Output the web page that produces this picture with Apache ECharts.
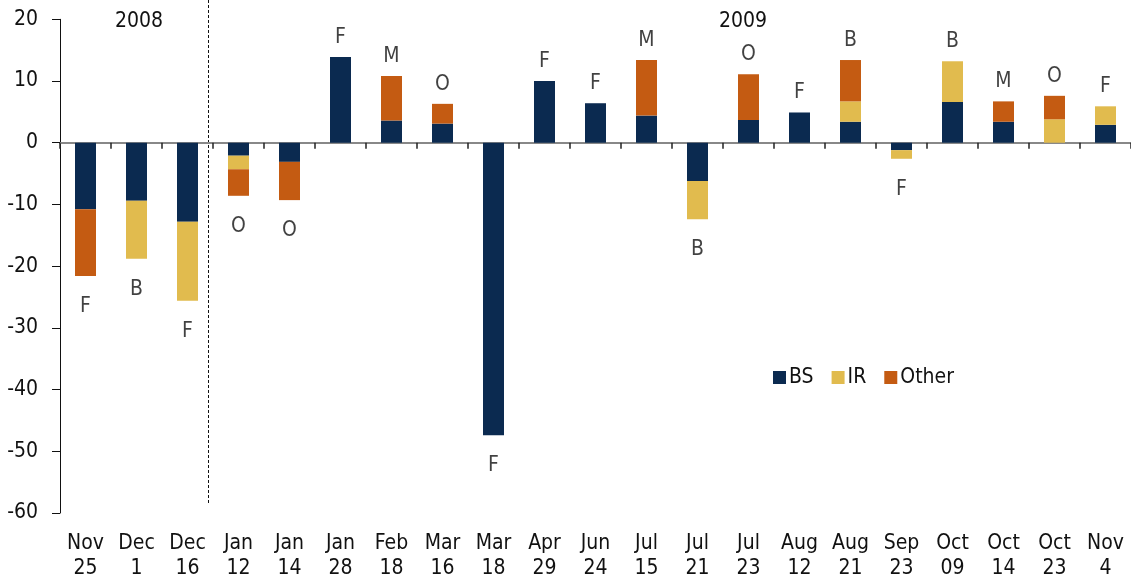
<!DOCTYPE html>
<html>
<head>
<meta charset="utf-8">
<script src="https://cdn.jsdelivr.net/npm/echarts@6/dist/echarts.min.js"></script>
<style>
  html, body { margin: 0; padding: 0; background: #fff; }
  #main { width: 1131px; height: 584px; }
</style>
</head>
<body>
<div id="main"></div>
<script>
// meeting dates (2008-2009)
const categories = ['Nov\n25', 'Dec\n1', 'Dec\n16', 'Jan\n12', 'Jan\n14', 'Jan\n28', 'Feb\n18', 'Mar\n16', 'Mar\n18', 'Apr\n29', 'Jun\n24',
  'Jul\n15', 'Jul\n21', 'Jul\n23', 'Aug\n12', 'Aug\n21', 'Sep\n23', 'Oct\n09', 'Oct\n14', 'Oct\n23', 'Nov\n4'];
const bs    = [-10.8, -9.4, -12.8, -2.1, -3.1, 13.9, 3.6, 3.1, -47.4, 10.0, 6.4, 4.4, -6.2, 3.7, 4.9, 3.4, -1.2, 6.6, 3.4, 0, 2.9];
const ir    = [0, -9.4, -12.8, -2.2, 0, 0, 0, 0, 0, 0, 0, 0, -6.2, 0, 0, 3.3, -1.4, 6.6, 0, 3.8, 3.0];
const other = [-10.8, 0, 0, -4.3, -6.2, 0, 7.2, 3.2, 0, 0, 0, 9.0, 0, 7.4, 0, 6.7, 0, 0, 3.3, 3.8, 0];
const tags  = ['F', 'B', 'F', 'O', 'O', 'F', 'M', 'O', 'F', 'F', 'F', 'M', 'B', 'O', 'F', 'B', 'F', 'B', 'M', 'O', 'F'];
const yTicks = [-60, 20, 10];

const FONT = '"DejaVu Sans Condensed", "Liberation Sans Narrow", "Liberation Sans", Arial, sans-serif';
const colors = { BS: '#0b2a50', IR: '#e1bb4e', Other: '#c45b12' };

const totals = bs.map((v, i) => +(v + ir[i] + other[i]).toFixed(2));

const chart = echarts.init(document.getElementById('main'));

function barSeries(name, data) {
  return {
    name: name,
    type: 'bar',
    stack: 'total',
    data: data,
    barWidth: 21,
    itemStyle: { color: colors[name] },
    animation: false
  };
}

const option = {
  animation: false,
  grid: { left: 60, right: 0, top: 19.3, bottom: 71 },
  legend: {
    data: ['BS', 'IR', 'Other'],
    left: 768, top: 362,
    itemWidth: 13, itemHeight: 13, itemGap: 18,
    icon: 'rect',
    textStyle: { fontFamily: FONT, fontSize: 21, color: '#111', padding: [0, 0, 0, -2] }
  },
  xAxis: [
    {
      type: 'category',
      data: categories,
      axisLine: { onZero: true, lineStyle: { color: '#888', width: 2 } },
      axisTick: { show: true, length: 6, lineStyle: { color: '#222', width: 1.5 } },
      axisLabel: { show: false }
    },
    {
      type: 'category',
      data: categories,
      position: 'bottom',
      axisLine: { show: false, onZero: false },
      axisTick: { show: false },
      axisLabel: {
        fontFamily: FONT, fontSize: 21, color: '#111',
        lineHeight: 25, margin: 18, interval: 0
      }
    }
  ],
  yAxis: {
    type: 'value',
    min: yTicks[0], max: yTicks[1], interval: yTicks[2],
    splitLine: { show: false },
    axisLine: { show: true, lineStyle: { color: '#111', width: 1 } },
    axisTick: { show: true, inside: false, length: 8, lineStyle: { color: '#111' } },
    axisLabel: { fontFamily: FONT, fontSize: 21, color: '#111', margin: 22 }
  },
  series: [
    barSeries('BS', bs),
    barSeries('IR', ir),
    barSeries('Other', other),
    {
      name: 'tags',
      type: 'scatter',
      symbolSize: 0,
      silent: true,
      data: totals.map((t, i) => ({
        value: t,
        label: {
          show: true,
          formatter: tags[i],
          position: t >= 0 ? 'top' : 'bottom',
          distance: t >= 0 ? 9 : 20,
          fontFamily: FONT, fontSize: 21, color: '#111'
        }
      })),
      z: 5
    }
  ]
};

chart.setOption(option);

// dashed separator between 2008 and 2009, plus year captions
const c2 = chart.convertToPixel({ xAxisIndex: 0 }, 2);
const c3 = chart.convertToPixel({ xAxisIndex: 0 }, 3);
const sepX = Math.round((c2 + c3) / 2) - 4.5;
const yBottom = chart.convertToPixel({ yAxisIndex: 0 }, -58.5);
chart.setOption({
  graphic: [
    {
      type: 'line',
      shape: { x1: sepX, y1: 0, x2: sepX, y2: yBottom },
      style: { stroke: '#111', lineWidth: 1, lineDash: [3, 2] },
      silent: true
    },
    {
      type: 'text', x: 139, y: 22,
      style: { text: '2008', fontFamily: FONT, fontSize: 21, fill: '#111', align: 'center', verticalAlign: 'middle' }
    },
    {
      type: 'text', x: 743, y: 22,
      style: { text: '2009', fontFamily: FONT, fontSize: 21, fill: '#111', align: 'center', verticalAlign: 'middle' }
    }
  ]
});
</script>
</body>
</html>
